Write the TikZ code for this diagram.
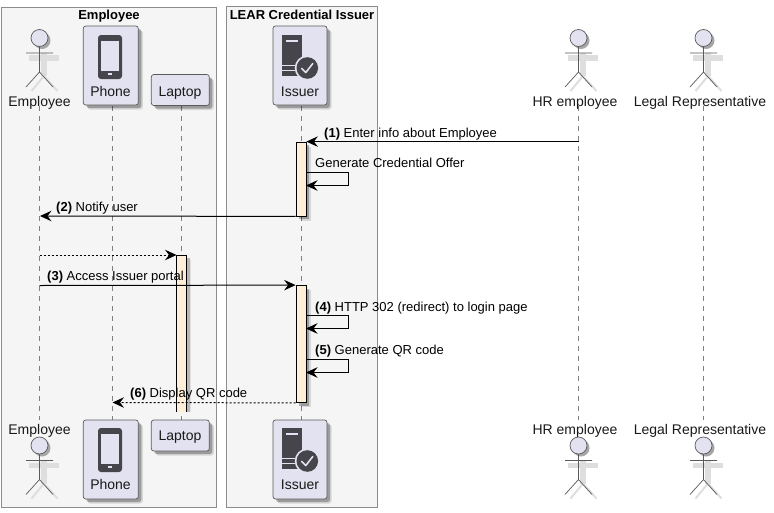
\documentclass[tikz,border=0pt]{standalone}
\usepackage{fontspec}
\setmainfont{Liberation Sans}
\usetikzlibrary{arrows.meta,shadows}
\definecolor{partfill}{HTML}{E2E2F0}
\definecolor{boxfill}{HTML}{F5F5F5}
\definecolor{framecol}{HTML}{8C8C8C}
\definecolor{edgecol}{HTML}{5A5A5A}
\definecolor{barfill}{HTML}{FFEFD9}
\definecolor{iconcol}{HTML}{45454B}
\tikzset{
  softshadow/.style={
    preaction={draw=none,fill=black,opacity=.12,transform canvas={shift={(4.5pt,-4.5pt)}}},
    preaction={draw=none,fill=black,opacity=.28,transform canvas={shift={(3pt,-3pt)}}}},
  group/.style={draw=framecol,fill=boxfill,line width=.8pt},
  grouptitle/.style={font=\fontsize{13}{15}\selectfont\bfseries,anchor=base,inner sep=0pt},
  part/.style={draw=edgecol,fill=partfill,rounded corners=2.5pt,line width=.7pt,softshadow,inner sep=0pt},
  partlabel/.style={font=\fontsize{14}{16}\selectfont,anchor=base,inner sep=0pt,text=black!90},
  msglabel/.style={font=\fontsize{13}{15}\selectfont,anchor=base west,inner sep=0pt},
  life/.style={draw=black!50,line width=.8pt,dash pattern=on 5pt off 5pt},
  bar/.style={draw=black,fill=barfill,line width=.8pt,inner sep=0pt,minimum width=10pt,softshadow},
  msg/.style={draw=black,line width=1pt,-{Stealth[length=11.5pt,width=10.5pt,inset=4pt]}},
  dmsg/.style={msg,dash pattern=on 2pt off 2pt},
  actorstroke/.style={draw=edgecol,line width=.7pt},
  pics/actorfig/.style={code={
    \draw[black!13,line width=5.5pt] (-10.5,20) -- (19,20);
    \draw[black!13,line width=5.5pt] (4.5,15) -- (4.5,38);
    \draw[black!13,line width=2pt] (4.5,38) -- (-8,53) (4.5,38) -- (18,53);
    \fill[black!35] (2.5,2.5) circle (8.5);
    \draw[actorstroke,fill=partfill] (0,0) circle (8.5);
    \draw[actorstroke] (0,8.5) -- (0,34) (-13.5,15) -- (13.5,15) (0,34) -- (-13.5,49) (0,34) -- (13.5,49);
  }},
  pics/phoneicon/.style={code={
    \fill[iconcol,rounded corners=3pt] (-12,0) rectangle (12,44);
    \fill[partfill] (-9.3,5.7) rectangle (9.3,35.7);
    \fill[partfill] (-2.2,38) rectangle (2.2,40.3);
  }},
  pics/servericon/.style={code={
    \fill[iconcol] (0,0) rectangle (20,41);
    \fill[partfill] (4,5.3) rectangle (16,6.5);
    \fill[partfill] (0,29.5) rectangle (13,30.5);
    \fill[partfill] (0,34.5) rectangle (13,35.5);
    \fill[partfill] (25,33) circle (12.6);
    \fill[iconcol] (25,33) circle (10.8);
    \draw[partfill,line width=1.6pt,line cap=round,line join=round] (19.5,33.5) -- (23.5,37.5) -- (30.5,28.5);
  }}
}
\begin{document}
\begin{tikzpicture}[x=1pt,y=-1pt]
\useasboundingbox (0,0) rectangle (774,512);
\fill[white] (0,0) rectangle (774,512);
% groups
\node[group,minimum width=215pt,minimum height=500pt,inner sep=0pt] (grpE) at (109,257) {};
\node[group,minimum width=151pt,minimum height=501pt,inner sep=0pt] (grpI) at (302,256.5) {};
\node[grouptitle] (grpEt) at (109,19.5) {Employee};
\node[grouptitle] (grpIt) at (302,19.5) {LEAR Credential Issuer};
% lifelines
\foreach \n/\x/\yb in {emp/39.5/420,pho/112.5/420,lap/181/420,iss/301/420,hr/578.5/420,leg/703.5/420}{
  \coordinate (\n T) at (\x,106);
  \coordinate (\n B) at (\x,\yb);
  \draw[life] (\n T) -- (\n B);
}
% top participants
\pic at (39.5,38) {actorfig};
\pic at (578.5,38) {actorfig};
\pic at (703.5,38) {actorfig};
\node[part,minimum width=55pt,minimum height=79pt] (phoT1) at (110.8,65.5) {};
\pic at (110,35) {phoneicon};
\node[part,minimum width=58pt,minimum height=31pt] (lapT1) at (180.3,90) {};
\node[part,minimum width=54pt,minimum height=79pt] (issT1) at (300,65.5) {};
\pic at (282.3,35) {servericon};
% bottom participants
\pic at (39.5,445.5) {actorfig};
\pic at (578.5,445.5) {actorfig};
\pic at (703.5,445.5) {actorfig};
\node[part,minimum width=55pt,minimum height=79pt] (phoB1) at (110.8,459.5) {};
\pic at (110,428) {phoneicon};
\node[part,minimum width=58pt,minimum height=31pt] (lapB1) at (180.3,435.5) {};
\node[part,minimum width=54pt,minimum height=79pt] (issB1) at (300,459.5) {};
\pic at (282.3,428) {servericon};
% labels
\foreach \nm/\x/\y/\t in {lE1/39.5/106/Employee,lP1/110.5/96/Phone,lL1/180/96/Laptop,lI1/300/96/Issuer,lH1/575/106/HR employee,lR1/700/106/Legal Representative,
  lE2/39.5/434/Employee,lP2/110.5/489/Phone,lL2/180/440/Laptop,lI2/300/489/Issuer,lH2/575/434/HR employee,lR2/700/434/Legal Representative}{
  \node[partlabel] (\nm) at (\x,\y) {\t};
}
% activation bars
\node[bar,minimum height=74pt] (a1) at (301,179) {};
\fill[black!28] (186.5,258) rectangle (189.5,412);
\fill[black!12] (189.5,260) rectangle (191,412);
\fill[barfill] (176.5,255) rectangle (186.5,412);
\draw[black,line width=.8pt] (176.5,412) -- (176.5,255) -- (186.5,255) -- (186.5,412);
\coordinate (a2n) at (176.5,255);
\node[bar,minimum height=117pt] (a3) at (301,344) {};
% messages
\coordinate (m1s) at (hrT |- a1.north);
\draw[msg] (m1s) -- (a1.north east);
\coordinate (s1a) at (306,172.5);
\coordinate (s1b) at (306,185.5);
\draw[msg] (s1a) -- (348.5,172.5) -- (348.5,185.5) -- (s1b);
\coordinate (m2e) at (40,216);
\draw[msg] (a1.south west) -- (m2e);
\coordinate (m3s) at (39.5,255);
\draw[dmsg] (m3s) -- (a2n);
\coordinate (m4s) at (39.5,285.5);
\draw[msg] (m4s) -- (a3.north west);
\coordinate (s2a) at (306,315.5);
\coordinate (s2b) at (306,328.5);
\draw[msg] (s2a) -- (348.5,315.5) -- (348.5,328.5) -- (s2b);
\coordinate (s3a) at (306,359.5);
\coordinate (s3b) at (306,372.5);
\draw[msg] (s3a) -- (348.5,359.5) -- (348.5,372.5) -- (s3b);
\coordinate (m6e) at (112.5,402.5);
\draw[dmsg] (a3.south west) -- (m6e);
% message labels
\node[msglabel] (t1) at (324,137) {\textbf{(1)} Enter info about Employee};
\node[msglabel] (t1b) at (315,167.5) {Generate Credential Offer};
\node[msglabel] (t2) at (56,211) {\textbf{(2)} Notify user};
\node[msglabel] (t3) at (47,280.5) {\textbf{(3)} Access Issuer portal};
\node[msglabel] (t4) at (315,311) {\textbf{(4)} HTTP 302 (redirect) to login page};
\node[msglabel] (t5) at (315,354) {\textbf{(5)} Generate QR code};
\node[msglabel] (t6) at (130,397.5) {\textbf{(6)} Display QR code};
\end{tikzpicture}
\end{document}
